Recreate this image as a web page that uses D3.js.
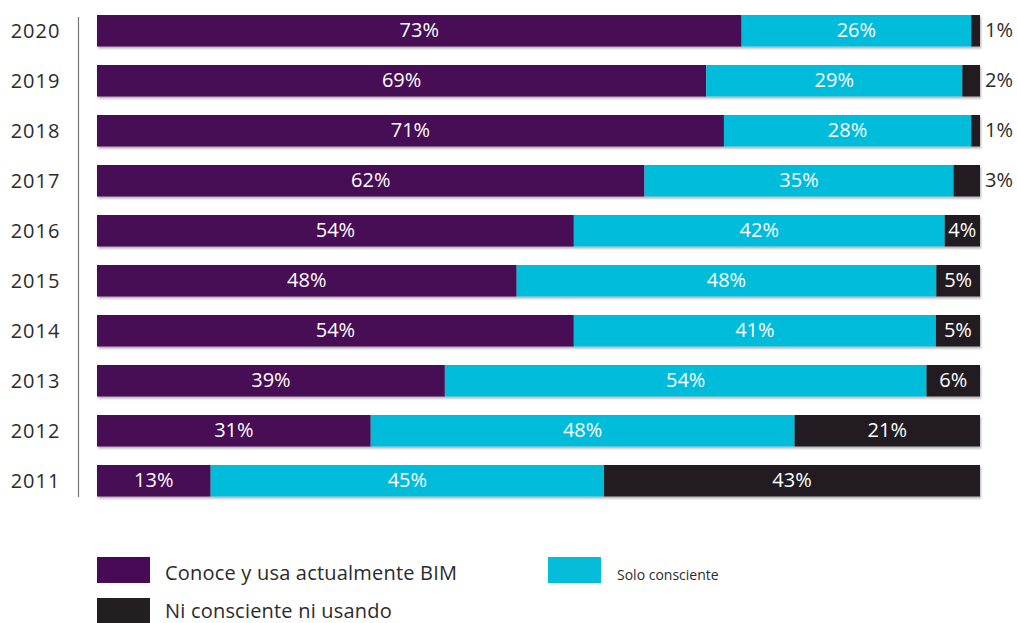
<!DOCTYPE html>
<html>
<head>
<meta charset="utf-8">
<script src="https://cdn.jsdelivr.net/npm/d3@7"></script>
<style>
  body { margin: 0; background: #fff; }
  svg { display: block; font-family: "Open Sans", "Noto Sans", sans-serif; }
</style>
</head>
<body>
<svg id="chart" width="1017" height="623"></svg>
<script>
var years = ["2020", "2019", "2018", "2017", "2016", "2015", "2014", "2013", "2012", "2011"]
var conoce = [73, 69, 71, 62, 54, 48, 54, 39, 31, 13]
var solo = [26, 29, 28, 35, 42, 48, 41, 54, 48, 45]
var ni = [1, 2, 1, 3, 4, 5, 5, 6, 21, 43]

var seriesNames = ["Conoce y usa actualmente BIM", "Solo consciente", "Ni consciente ni usando"]
var colors = ["#470a55", "#06bcdb", "#231f20"]

var svg = d3.select("#chart")

// soft shadow under the bars
var defs = svg.append("defs")
var f = defs.append("filter").attr("id", "shadow")
  .attr("x", "-5%").attr("y", "-20%").attr("width", "110%").attr("height", "160%")
f.append("feDropShadow").attr("dx", 1).attr("dy", 2).attr("stdDeviation", 1.2)
  .attr("flood-color", "#000").attr("flood-opacity", 0.3)

var rows = years.map(function(y, i) {
  var vals = [conoce[i], solo[i], ni[i]]
  var total = d3.sum(vals)
  var acc = 0
  return {
    year: y,
    segs: vals.map(function(v, k) {
      var s = {k: k, v: v, x0: acc / total, x1: (acc + v) / total}
      acc += v
      return s
    })
  }
})

var x = d3.scaleLinear().domain([0, 1]).range([97, 980])
var y = d3.scaleBand().domain(years).range([15, 496.5]).paddingInner(0.37).paddingOuter(0)

// year axis line
svg.append("line")
  .attr("x1", 78.5).attr("x2", 78.5)
  .attr("y1", 17).attr("y2", 497)
  .attr("stroke", "#777").attr("stroke-width", 1.2)

svg.append("g").selectAll("text")
  .data(years)
  .enter().append("text")
  .attr("x", 35.5)
  .attr("y", function(d) { return y(d) + y.bandwidth() / 2 })
  .attr("dy", "0.35em")
  .attr("text-anchor", "middle")
  .attr("font-size", 20)
  .attr("letter-spacing", 1)
  .attr("fill", "#2b2b2b")
  .text(function(d) { return d })

var row = svg.append("g").selectAll("g.row")
  .data(rows)
  .enter().append("g").attr("class", "row")
  .attr("transform", function(d) { return "translate(0," + y(d.year) + ")" })

row.append("g").attr("filter", "url(#shadow)")
  .selectAll("rect")
  .data(function(d) { return d.segs })
  .enter().append("rect")
  .attr("x", function(d) { return x(d.x0) })
  .attr("width", function(d) { return x(d.x1) - x(d.x0) })
  .attr("y", 0)
  .attr("height", y.bandwidth())
  .attr("fill", function(d) { return colors[d.k] })

function narrow(d) { return x(d.x1) - x(d.x0) < 30 }

row.selectAll("text")
  .data(function(d) { return d.segs })
  .enter().append("text")
  .attr("x", function(d) { return narrow(d) ? x(1) + 5 : (x(d.x0) + x(d.x1)) / 2 })
  .attr("y", y.bandwidth() / 2)
  .attr("dy", "0.33em")
  .attr("text-anchor", function(d) { return narrow(d) ? "start" : "middle" })
  .attr("font-size", 20)
  .attr("fill", function(d) { return narrow(d) ? "#2b2b2b" : "#fff" })
  .text(function(d) { return d.v + "%" })

// legend
var legend = [
  {k: 0, x: 97, y: 557, ty: 22.5, size: 20, ls: 0.2},
  {k: 1, x: 548, y: 557, ty: 22.5, size: 14, ls: 0},
  {k: 2, x: 97, y: 598, ty: 19.5, size: 20, ls: 0.2}
]
var lg = svg.append("g").selectAll("g")
  .data(legend)
  .enter().append("g")
  .attr("transform", function(d) { return "translate(" + d.x + "," + d.y + ")" })

lg.append("rect")
  .attr("width", 53).attr("height", 26)
  .attr("fill", function(d) { return colors[d.k] })

lg.append("text")
  .attr("x", function(d) { return d.k == 1 ? 69 : 68 })
  .attr("y", function(d) { return d.ty })
  .attr("font-size", function(d) { return d.size })
  .attr("letter-spacing", function(d) { return d.ls })
  .attr("fill", "#2b2b2b")
  .text(function(d) { return seriesNames[d.k] })
</script>
</body>
</html>
